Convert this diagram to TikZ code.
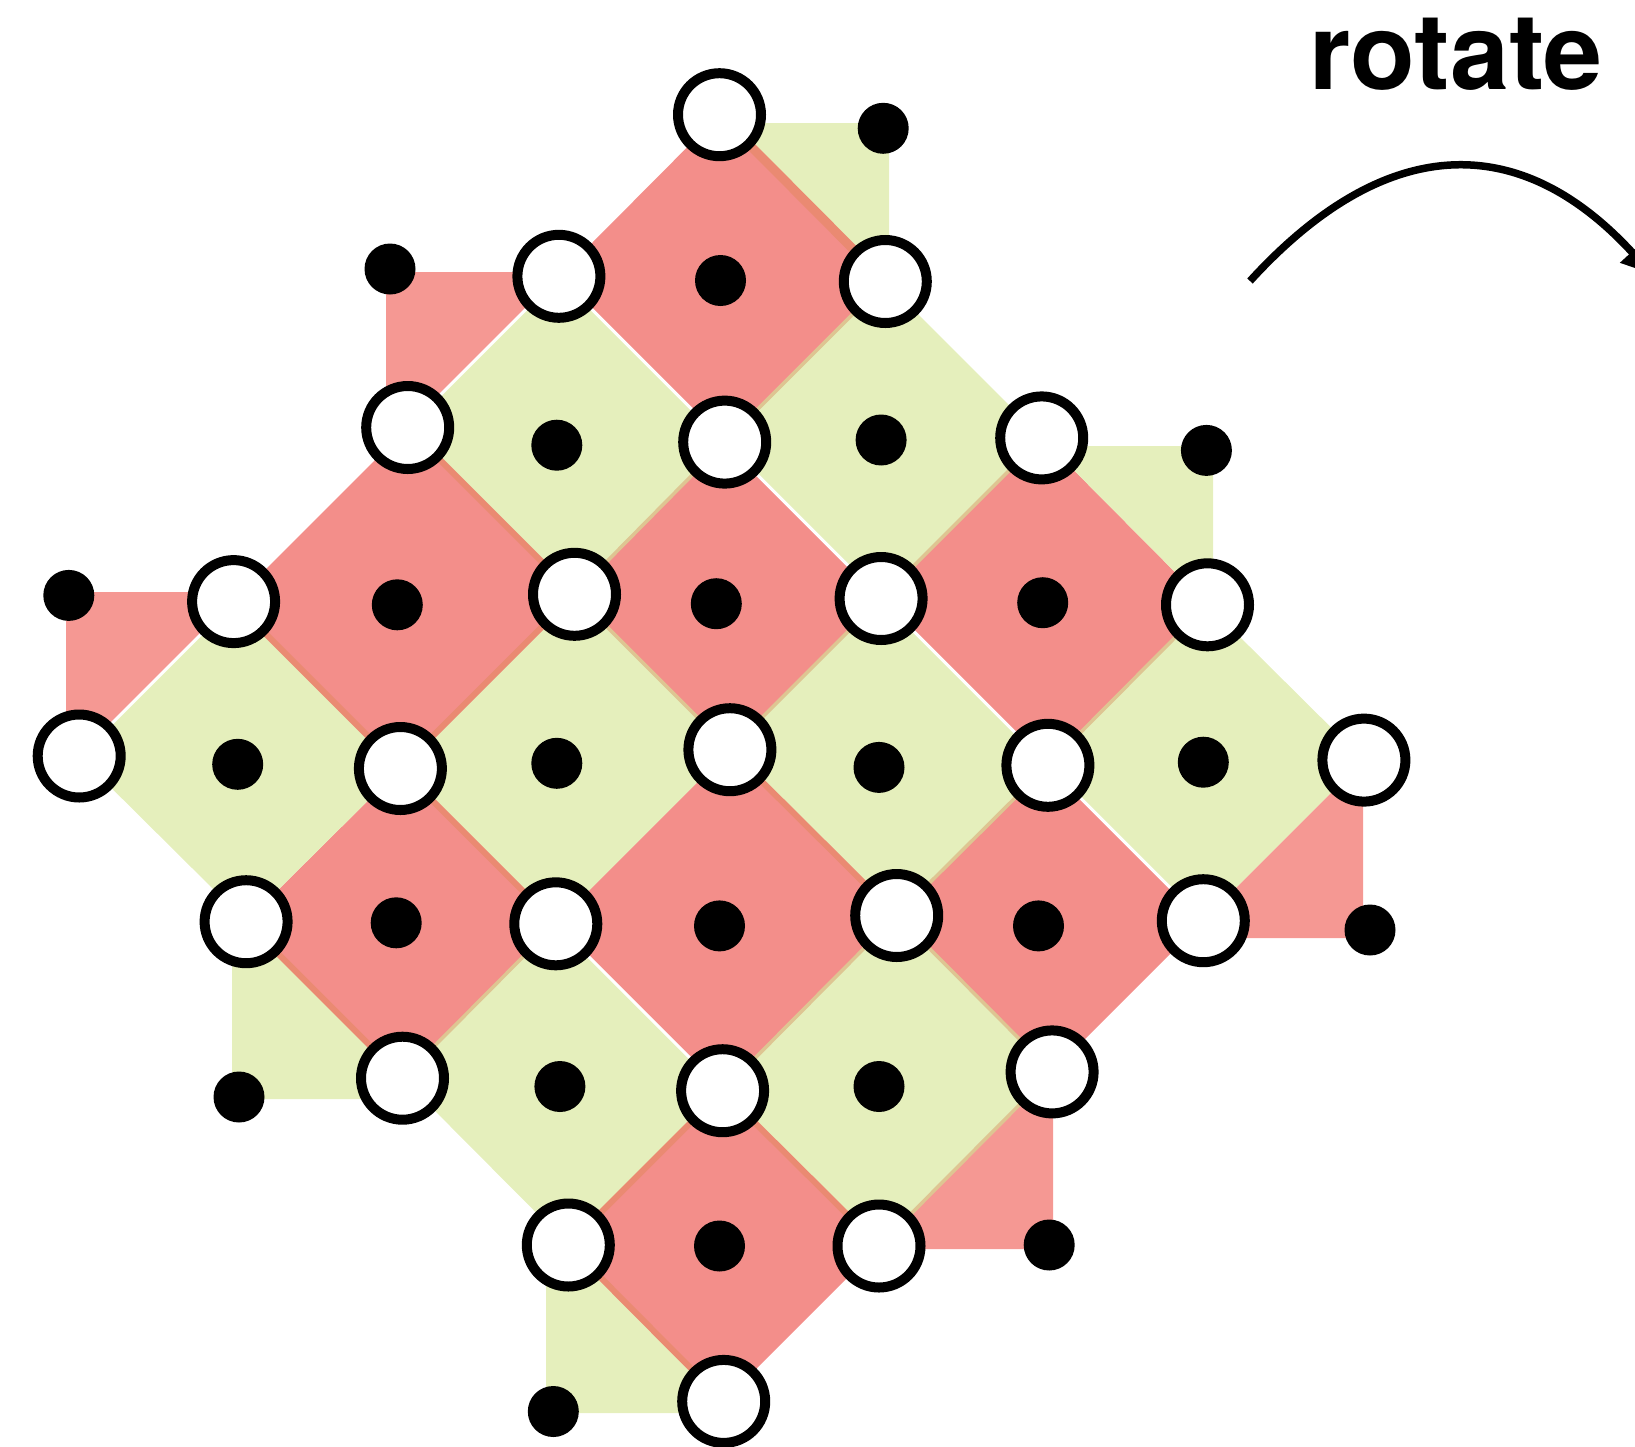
\documentclass[tikz,border=0pt]{standalone}
\usepackage{fontspec}
\setmainfont{TeX Gyre Heros}
\usetikzlibrary{arrows.meta}
\definecolor{pred}{HTML}{F38E8A}
\definecolor{pbred}{HTML}{F59893}
\definecolor{pgreen}{HTML}{E5EFBC}
\definecolor{povl}{HTML}{EA8A72}
\definecolor{ptan}{HTML}{DEC592}
\begin{document}
\begin{tikzpicture}[x=1pt,y=-1pt,
  qubit/.style={circle,draw=black,fill=white,line width=10pt,minimum size=83pt,inner sep=0pt},
  anc/.style={circle,fill=black,minimum size=51pt,inner sep=0pt},
  redp/.style={fill=pred},
  bredp/.style={fill=pbred},
  greenp/.style={fill=pgreen},
  ovl/.style={draw=povl,line width=6pt},
  tanl/.style={draw=ptan,line width=3.5pt},
  gapl/.style={draw=white,line width=3pt},
  arr/.style={line width=7.5pt,-{Triangle[length=30pt,width=30pt]}}]
\path[use as bounding box] (0,0) rectangle (1635,1446);
\clip (0,0) rectangle (1635,1446);

% data qubit positions
\foreach \n/\x/\y in {00/719.5/114.7, 10/558.9/276.3, 01/885.3/281.5,
  20/407.7/427.5, 11/724.7/442.1, 02/1041.7/437.9,
  30/233.6/601.6, 21/574.5/594.3, 12/881.1/598.5, 03/1207.5/604.8,
  40/79.2/756.0, 31/400.4/768.5, 22/729.9/749.7, 13/1047.9/765.3, 04/1363.9/760.1,
  41/246.1/921.7, 32/555.8/923.8, 23/896.7/915.5, 14/1203.3/920.7,
  42/402.5/1078.2, 33/722.6/1090.7, 24/1052.1/1071.9,
  43/568.3/1245.0, 34/879.0/1246.0, 44/723.7/1401.4}
  \coordinate (c\n) at (\x,\y);

% boundary corners
\coordinate (k1) at (889,123);
\coordinate (k2) at (386,272);
\coordinate (k3) at (66,592);
\coordinate (k4) at (1213,446);
\coordinate (k5) at (1363,938);
\coordinate (k6) at (232,1099);
\coordinate (k7) at (1053,1249);
\coordinate (k8) at (546,1413);

% interior plaquettes
\foreach \a/\b/\ap/\bp/\st in {0/0/1/1/redp, 2/0/3/1/redp, 1/1/2/2/redp, 0/2/1/3/redp,
  3/1/4/2/redp, 2/2/3/3/redp, 1/3/2/4/redp, 3/3/4/4/redp,
  1/0/2/1/greenp, 0/1/1/2/greenp, 3/0/4/1/greenp, 2/1/3/2/greenp,
  1/2/2/3/greenp, 0/3/1/4/greenp, 3/2/4/3/greenp, 2/3/3/4/greenp}
  \path[\st] (c\a\b) -- (c\ap\b) -- (c\ap\bp) -- (c\a\bp) -- cycle;

% boundary plaquettes
\foreach \A/\k/\B/\st in {00/k1/01/greenp, 10/k2/20/bredp, 30/k3/40/bredp,
  02/k4/03/greenp, 14/k5/04/bredp, 42/k6/41/greenp, 34/k7/24/bredp, 44/k8/43/greenp}
  \path[\st] (c\A) -- (c\A |- \k) -- (\k) -- (\k |- c\B) -- (c\B) -- cycle;

% overlap / gap artefacts along plaquette edges
\draw[ovl,line width=9pt] (c00) -- (c01);
\foreach \p/\q in {20/21, 22/23, 30/31, 31/32, 33/34, 41/42, 43/44, 21/31, 33/43}
  \draw[ovl] (c\p) -- (c\q);
\foreach \p/\q in {21/22, 23/24, 01/11, 11/21, 02/12, 12/22, 32/42, 03/13, 13/23, 23/33, 24/34}
  \draw[tanl] (c\p) -- (c\q);
\foreach \p/\q in {10/11, 11/12, 12/13, 13/14, 32/33, 10/20, 30/40}
  \draw[gapl] (c\p) -- (c\q);

% ancilla qubits
\foreach \n/\x/\y in {00/720.5/280.5, 10/556.8/445.2, 01/881.1/440.0,
  20/397.3/604.8, 11/716.3/603.7, 02/1042.7/602.7,
  30/237.7/764.3, 21/556.8/763.3, 12/879.0/767.4, 03/1203.3/762.2,
  31/396.2/922.8, 22/719.5/925.9, 13/1038.5/925.9,
  32/559.9/1086.5, 23/879.0/1086.5, 33/719.5/1246.0}
  \node[anc] (a\n) at (\x,\y) {};
\foreach \n/\x/\y in {1/883.2/128.3, 2/390.0/269.0, 3/68.8/595.4, 4/1206.4/450.4,
  5/1370.0/930.0, 6/239.0/1097.0, 7/1049.2/1245.0, 8/553.3/1411.5}
  \node[anc] (b\n) at (\x,\y) {};

% data qubits
\foreach \n in {00,10,01,20,11,02,30,21,12,03,40,31,22,13,04,41,32,23,14,42,33,24,43,34,44}
  \node[qubit] (q\n) at (c\n) {};

% label and arrow
\node[font=\fontsize{106}{110}\selectfont\bfseries,anchor=base,inner sep=0pt] (rot) at (1456,89) {rotate};
\coordinate (arrs) at (1250,281);
\coordinate (arre) at (1652,274);
\draw[arr] (arrs) .. controls (1386,132) and (1520,130) .. (arre);
\end{tikzpicture}
\end{document}
